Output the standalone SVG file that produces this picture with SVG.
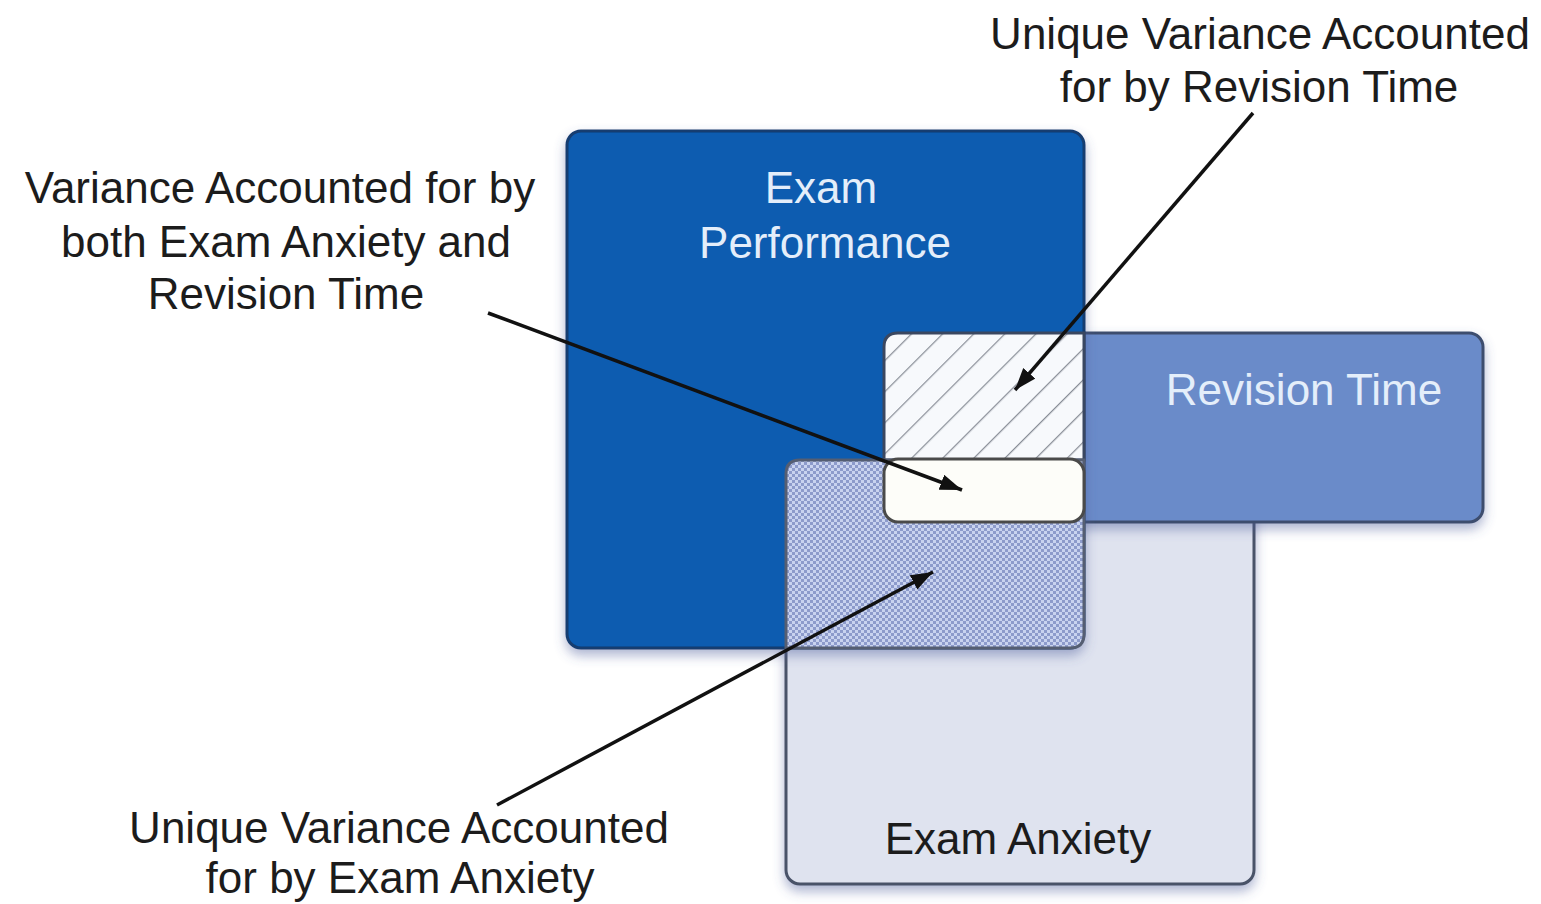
<svg xmlns="http://www.w3.org/2000/svg" width="1541" height="904" viewBox="0 0 1541 904">
  <style>
    .lbl { font-family: "Liberation Sans", Arial, sans-serif; font-size: 44px; fill: #1c1c1c; text-anchor: middle; }
    .wlbl { font-family: "Liberation Sans", Arial, sans-serif; font-size: 44px; fill: #e4eefa; text-anchor: middle; }
    .conn { stroke: #111; stroke-width: 3.5; fill: none; marker-end: url(#arrow); }
  </style>
  <defs>
    <filter id="shadow" x="-10%" y="-10%" width="125%" height="130%">
      <feDropShadow dx="0" dy="6" stdDeviation="6" flood-color="#4a5a9a" flood-opacity="0.45"/>
    </filter>
    <pattern id="hatch" width="22" height="22" patternUnits="userSpaceOnUse" patternTransform="rotate(45)">
      <rect width="22" height="22" fill="#f7f9fc"/>
      <line x1="0" y1="0" x2="0" y2="22" stroke="#8a8f98" stroke-width="2.5"/>
    </pattern>
    <pattern id="dots" width="6" height="6" patternUnits="userSpaceOnUse">
      <rect width="6" height="6" fill="#c9d3ef"/>
      <rect x="0" y="0" width="3" height="3" fill="#8d9bcb"/>
      <rect x="3" y="3" width="3" height="3" fill="#8d9bcb"/>
    </pattern>
    <marker id="arrow" markerUnits="userSpaceOnUse" markerWidth="24" markerHeight="18" refX="22" refY="8" orient="auto">
      <path d="M0,0 L22,8 L0,16 z" fill="#111"/>
    </marker>
  </defs>
  <rect width="1541" height="904" fill="#ffffff"/>

  <g id="exam-anxiety">
    <rect x="786" y="460" width="468" height="424" rx="14" fill="#dfe3ef" stroke="#4a5268" stroke-width="3" filter="url(#shadow)"/>
    <text class="lbl" x="1018" y="854">Exam Anxiety</text>
  </g>

  <g id="revision-time">
    <rect x="884" y="333" width="599" height="189" rx="14" fill="#6b8bc9" stroke="#3e4e6e" stroke-width="3" filter="url(#shadow)"/>
    <text class="wlbl" x="1304" y="405">Revision Time</text>
  </g>

  <g id="exam-performance">
    <rect x="567" y="131" width="517" height="517" rx="14" fill="#075bb0" stroke="#173d70" stroke-width="3" filter="url(#shadow)"/>
    <text class="wlbl" x="821" y="203">Exam</text>
    <text class="wlbl" x="825" y="258">Performance</text>
  </g>

  <g id="unique-revision-area">
    <path d="M884,347 Q884,333 898,333 L1084,333 L1084,460 L884,460 Z" fill="url(#hatch)" stroke="#3a4760" stroke-width="3"/>
  </g>

  <g id="unique-anxiety-area">
    <path d="M786,474 Q786,460 800,460 L1084,460 L1084,634 Q1084,648 1070,648 L786,648 Z" fill="url(#dots)" stroke="#555e72" stroke-width="3"/>
  </g>

  <g id="shared-area">
    <rect x="884" y="459" width="200" height="63" rx="14" fill="#fdfdf9" stroke="#4a4a4a" stroke-width="3"/>
  </g>

  <g id="label-unique-revision">
    <text class="lbl" x="1260" y="49">Unique Variance Accounted</text>
    <text class="lbl" x="1259" y="102">for by Revision Time</text>
  </g>

  <g id="label-shared">
    <text class="lbl" x="280" y="203">Variance Accounted for by</text>
    <text class="lbl" x="286" y="257">both Exam Anxiety and</text>
    <text class="lbl" x="286" y="309">Revision Time</text>
  </g>

  <g id="label-unique-anxiety">
    <text class="lbl" x="399" y="843">Unique Variance Accounted</text>
    <text class="lbl" x="400" y="893">for by Exam Anxiety</text>
  </g>

  <g id="connectors">
    <line class="conn" x1="1253" y1="113" x2="1015" y2="390"/>
    <line class="conn" x1="488" y1="313" x2="962" y2="490"/>
    <line class="conn" x1="497" y1="805" x2="933" y2="572"/>
  </g>
</svg>
